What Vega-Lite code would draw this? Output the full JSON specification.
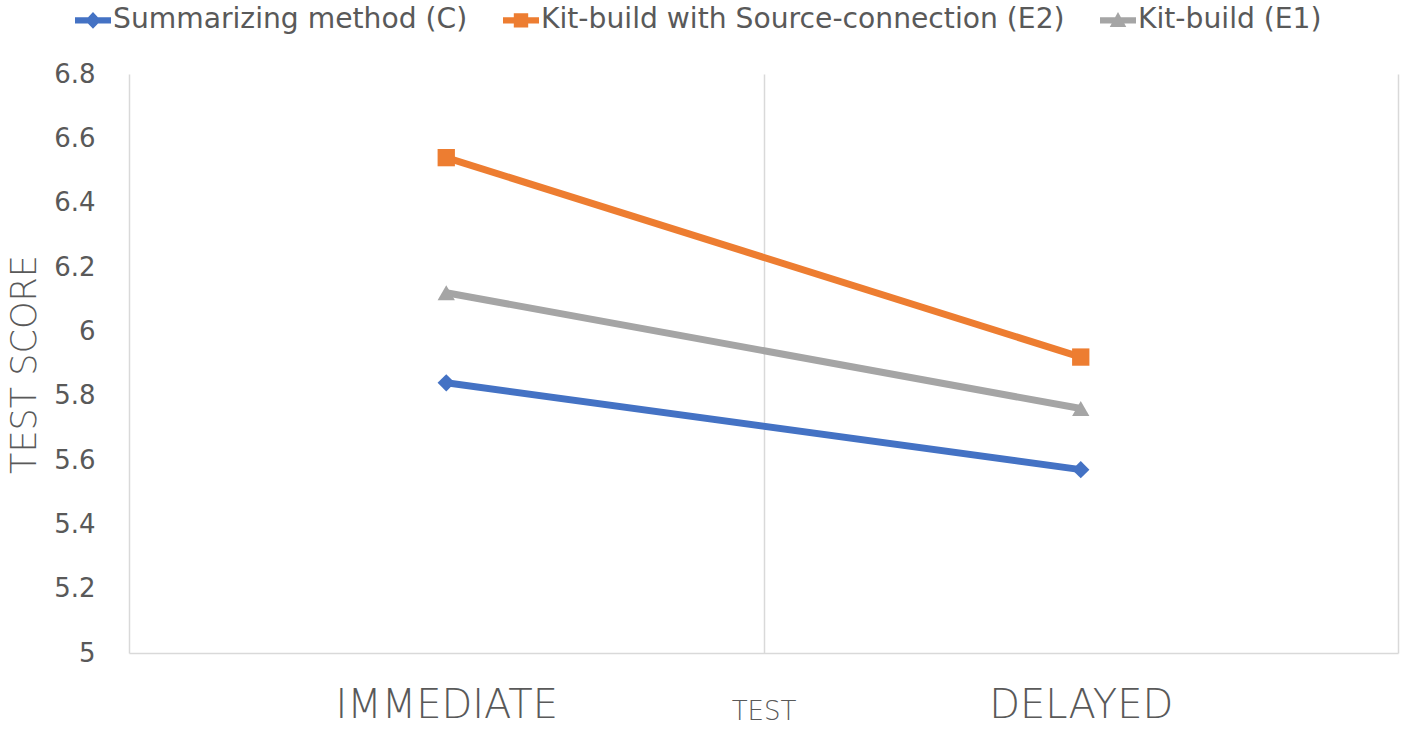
{
  "$schema": "https://vega.github.io/schema/vega-lite/v6.json",
  "autosize": "none",
  "width": 1269,
  "height": 579,
  "padding": {"left": 129, "top": 74, "right": 20, "bottom": 77},
  "background": "white",
  "config": {
    "view": {"stroke": null},
    "font": "DejaVu Sans"
  },
  "data": {
    "values": [
      {"test": "IMMEDIATE", "group": "Summarizing method (C)", "score": 5.84},
      {"test": "DELAYED", "group": "Summarizing method (C)", "score": 5.57},
      {"test": "IMMEDIATE", "group": "Kit-build with Source-connection (E2)", "score": 6.54},
      {"test": "DELAYED", "group": "Kit-build with Source-connection (E2)", "score": 5.92},
      {"test": "IMMEDIATE", "group": "Kit-build (E1)", "score": 6.12},
      {"test": "DELAYED", "group": "Kit-build (E1)", "score": 5.76}
    ]
  },
  "encoding": {
    "x": {
      "field": "test",
      "type": "nominal",
      "sort": ["IMMEDIATE", "DELAYED"],
      "scale": {"paddingInner": 0, "paddingOuter": 0},
      "axis": {
        "title": "TEST",
        "titleFontSize": 26,
        "titleFontWeight": 200,
        "titleColor": "#595959",
        "titleY": 58,
        "titleBaseline": "middle",
        "labelAngle": 0,
        "labelFontSize": 40,
        "labelFontWeight": 200,
        "labelColor": "#595959",
        "labelPadding": 52,
        "labelBaseline": "middle",
        "labelLimit": 0,
        "ticks": false,
        "tickBand": "extent",
        "domainColor": "#D9D9D9",
        "domainWidth": 1.5,
        "grid": true,
        "gridColor": "#D9D9D9",
        "gridWidth": 1.5
      }
    },
    "y": {
      "field": "score",
      "type": "quantitative",
      "scale": {"domain": [5, 6.8], "nice": false, "zero": false},
      "axis": {
        "title": "TEST SCORE",
        "titleFontSize": 35,
        "titleFontWeight": 200,
        "titleColor": "#595959",
        "titleX": -105,
        "titleY": 290,
        "titleAngle": -90,
        "titleBaseline": "middle",
        "values": [5, 5.2, 5.4, 5.6, 5.8, 6, 6.2, 6.4, 6.6, 6.8],
        "labelFontSize": 26,
        "labelColor": "#595959",
        "labelPadding": 34,
        "ticks": false,
        "grid": false,
        "domain": false,
        "format": "~g"
      }
    },
    "color": {
      "field": "group",
      "type": "nominal",
      "sort": ["Summarizing method (C)", "Kit-build with Source-connection (E2)", "Kit-build (E1)"],
      "scale": {
        "domain": ["Summarizing method (C)", "Kit-build with Source-connection (E2)", "Kit-build (E1)"],
        "range": ["#4472C4", "#ED7D31", "#A5A5A5"]
      },
      "legend": {
        "title": null,
        "orient": "none",
        "direction": "horizontal",
        "legendX": -54,
        "legendY": -72,
        "labelFontSize": 28.2,
        "labelColor": "#595959",
        "labelLimit": 0,
        "symbolSize": 1296,
        "symbolOpacity": 1,
        "symbolStrokeWidth": 0,
        "labelOffset": 2,
        "columnPadding": 35,
        "encode": {
          "symbols": {
            "update": {
              "shape": {
                "signal": "datum.value === 'Summarizing method (C)' ? 'M-1,-0.17H1V0.17H-1Z M0,-0.46L0.44,0L0,0.46L-0.44,0Z' : datum.value === 'Kit-build (E1)' ? 'M-1,-0.17H1V0.17H-1Z M0,-0.46L0.46,0.36H-0.46Z' : 'M-1,-0.17H1V0.17H-1Z M-0.4,-0.4H0.4V0.4H-0.4Z'"
              },
              "fill": {"scale": "color", "field": "value"},
              "fillOpacity": {"value": 1},
              "strokeWidth": {"value": 0}
            }
          }
        }
      }
    }
  },
  "layer": [
    {
      "mark": {"type": "line", "strokeWidth": 7}
    },
    {
      "mark": {"type": "point", "filled": true, "size": 300, "opacity": 1},
      "encoding": {
        "shape": {
          "condition": [
            {"test": "datum.group === 'Summarizing method (C)'", "value": "diamond"},
            {"test": "datum.group === 'Kit-build (E1)'", "value": "triangle-up"}
          ],
          "value": "square"
        }
      }
    }
  ]
}
